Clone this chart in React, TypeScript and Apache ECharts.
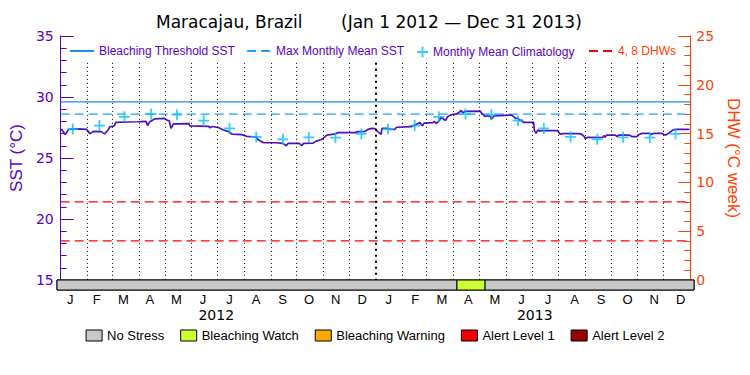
import React, { useEffect, useRef } from 'react';
import * as echarts from 'echarts';

const sstDates = [
  '2012-01-01','2012-01-02','2012-01-04','2012-01-06','2012-01-08','2012-01-10','2012-01-21','2012-01-31',
  '2012-02-04','2012-02-08','2012-02-17','2012-02-21','2012-02-25','2012-02-27',
  '2012-03-03','2012-03-05','2012-03-19','2012-03-30',
  '2012-04-09','2012-04-11','2012-04-13','2012-04-19','2012-04-30',
  '2012-05-04','2012-05-06','2012-05-08','2012-05-11','2012-05-29','2012-05-30',
  '2012-06-21','2012-06-22','2012-06-25',
  '2012-07-02','2012-07-08','2012-07-14','2012-07-18','2012-07-29',
  '2012-08-04','2012-08-15','2012-08-17','2012-08-21','2012-08-24',
  '2012-09-07','2012-09-15','2012-09-19','2012-09-21',
  '2012-10-04','2012-10-07','2012-10-09','2012-10-20','2012-10-23','2012-10-29',
  '2012-11-01','2012-11-05','2012-11-15','2012-11-18',
  '2012-12-08','2012-12-11','2012-12-19','2012-12-23','2012-12-27','2012-12-31',
  '2013-01-03','2013-01-07','2013-01-08','2013-01-15','2013-01-17','2013-01-23','2013-01-25',
  '2013-02-11','2013-02-13','2013-02-17','2013-02-21','2013-02-24','2013-02-26',
  '2013-03-08','2013-03-10','2013-03-12','2013-03-16','2013-03-17','2013-03-19','2013-03-23','2013-03-25','2013-03-30',
  '2013-04-04','2013-04-07','2013-04-10','2013-04-12','2013-04-14',
  '2013-05-02','2013-05-04','2013-05-08','2013-05-10','2013-05-14','2013-05-15','2013-05-18',
  '2013-06-07','2013-06-10','2013-06-12','2013-06-15','2013-06-17','2013-06-19','2013-06-21',
  '2013-07-03','2013-07-04','2013-07-06','2013-07-08','2013-07-10','2013-07-12','2013-07-31',
  '2013-08-03','2013-08-06','2013-08-25','2013-08-28','2013-08-31',
  '2013-09-01','2013-09-04','2013-09-21','2013-09-23','2013-09-24','2013-09-26',
  '2013-10-06','2013-10-08','2013-10-10','2013-10-22','2013-10-25','2013-10-31',
  '2013-11-02','2013-11-06','2013-11-14','2013-11-16','2013-11-20','2013-11-29',
  '2013-12-02','2013-12-04','2013-12-08','2013-12-12','2013-12-16','2013-12-31',
];
const sstValues = [
  27.30,27.35,27.15,26.92,27.10,27.35,27.38,27.35,
  27.00,27.18,27.16,26.98,27.30,27.55,
  27.62,27.92,27.95,27.97,
  28.00,27.65,27.95,28.20,28.25,
  28.08,28.05,27.43,27.80,27.82,27.63,
  27.60,27.48,27.58,
  27.50,27.30,27.16,26.95,26.92,
  26.78,26.72,26.52,26.34,26.25,
  26.25,26.20,26.00,26.20,
  26.20,26.02,26.20,26.22,26.36,26.50,
  26.62,26.88,26.97,27.08,
  27.08,27.16,27.18,27.35,27.43,27.40,
  27.16,26.94,27.43,27.43,27.35,27.35,27.52,
  27.57,27.65,27.76,27.90,27.64,27.86,
  27.90,28.00,27.82,28.10,28.33,28.25,28.08,28.38,28.56,
  28.60,28.70,28.90,28.68,28.82,
  28.85,28.64,28.40,28.47,28.40,28.17,28.45,
  28.52,28.39,28.25,28.25,28.06,28.11,27.92,
  27.93,27.25,27.02,27.30,27.20,27.24,27.24,
  26.95,27.00,27.00,26.94,26.75,
  26.58,26.70,26.68,26.83,26.70,26.88,
  26.88,26.76,26.88,26.88,26.76,26.76,
  26.90,27.02,27.02,26.94,27.02,27.02,
  26.90,26.90,27.08,27.30,27.35,27.35,
];

const climYears = [2012, 2013];
const climatology = [27.37, 27.66, 28.38, 28.60, 28.55, 28.06, 27.42, 26.73, 26.53, 26.70, 26.67, 26.97];
const maxMonthlyMean = 28.6;
const bleachingThreshold = 29.6;
const dhwLevels = [4, 8];

const monthLabels = ['J','F','M','A','M','J','J','A','S','O','N','D','J','F','M','A','M','J','J','A','S','O','N','D'];
const yearLabels = ['2012', '2013'];

const statusNames = ['No Stress', 'Bleaching Watch', 'Bleaching Warning', 'Alert Level 1', 'Alert Level 2'];
const statusColors = ['#c8c8c8', '#ccff33', '#ffaa00', '#ee0000', '#990000'];
const statusStart = ['2012-01-01', '2013-04-04', '2013-05-06'];
const statusEnd = ['2013-04-04', '2013-05-06', '2014-01-01'];
const statusLevel = [0, 1, 0];

const xStart = '2012-01-01';
const xEnd = '2014-01-01';

const PURPLE = '#5a00c8';
const LINE_PURPLE = '#5010c0';
const ORANGE = '#ff4000';
const TXT = 'Liberation Sans, Arial, sans-serif';
const NUM = 'DejaVu Sans, sans-serif';
const PLUS = 'path://M4.2,0H5.8V4.2H10V5.8H5.8V10H4.2V5.8H0V4.2H4.2Z';

function toTime(s: string): number {
  const [y, m, d] = s.split('-').map(Number);
  return new Date(y, m - 1, d).getTime();
}

export default function App() {
  const ref = useRef<HTMLDivElement>(null);
  useEffect(() => {
    if (!ref.current) return;
    const chart = echarts.init(ref.current, null, { renderer: 'svg' });
    const t0 = toTime(xStart);
    const t1 = toTime(xEnd);

    const sstData = sstDates.map((d, i) => [toTime(d), sstValues[i]]);
    const climData: number[][] = [];
    climYears.forEach((y) => {
      climatology.forEach((v, m) => {
        climData.push([new Date(y, m, 15).getTime(), v]);
      });
    });
    const monthLines: any[] = [];
    climYears.forEach((y) => {
      for (let m = 0; m < 12; m++) {
        if (y === 2012 && m === 0) continue;
        const t = new Date(y, m, 1).getTime();
        const bold = m === 0;
        monthLines.push([
          { coord: [t, 32.8], lineStyle: bold ? { width: 2, type: [2, 4], color: '#000' } : undefined },
          { coord: [t, 15] },
        ]);
      }
    });
    const statusData = statusStart.map((s, i) => [toTime(s), toTime(statusEnd[i]), statusLevel[i]]);

    const statusSeries = statusNames.map((n, lvl) => ({
      name: n, type: 'custom', xAxisIndex: 1, yAxisIndex: 2,
      data: statusData.filter((d) => d[2] === lvl),
      encode: { x: [0, 1], y: 2 },
      itemStyle: { color: statusColors[lvl] },
      renderItem: (params: any, api: any) => {
        const s = api.coord([api.value(0), 0]);
        const e = api.coord([api.value(1), 1]);
        return {
          type: 'rect',
          shape: { x: s[0], y: e[1], width: e[0] - s[0], height: s[1] - e[1] },
          style: { fill: statusColors[lvl], stroke: '#000', lineWidth: 1 },
        };
      },
      z: 3,
    }));

    const option: any = {
      animation: false,
      backgroundColor: '#fff',
      title: [
        {
          text: 'Maracajau, Brazil',
          left: 156, top: 13, padding: 0,
          textStyle: { fontFamily: NUM, fontSize: 17, fontWeight: 'normal', color: '#000' },
        },
        {
          text: '(Jan 1 2012 \u2014 Dec 31 2013)',
          left: 341, top: 13, padding: 0,
          textStyle: { fontFamily: NUM, fontSize: 17, fontWeight: 'normal', color: '#000' },
        },
      ],
      grid: [
        { left: 57, right: 56, top: 36, height: 244 },
        { left: 57, right: 56, top: 280, height: 10, show: true, borderColor: '#000', borderWidth: 1, backgroundColor: 'transparent' },
      ],
      legend: [
        {
          data: ['Bleaching Threshold SST', 'Max Monthly Mean SST'],
          left: 69, top: 45, padding: 0, itemWidth: 24, itemHeight: 14, itemGap: 11,
          selectedMode: false,
          itemStyle: { opacity: 0 },
          textStyle: { color: PURPLE, fontFamily: TXT, fontSize: 12 },
        },
        {
          data: ['Monthly Mean Climatology'],
          left: 417, top: 46, padding: 0, itemWidth: 11, itemHeight: 11, itemGap: 11,
          selectedMode: false,
          textStyle: { color: PURPLE, fontFamily: TXT, fontSize: 12 },
        },
        {
          data: [{ name: '4, 8 DHWs', textStyle: { color: ORANGE } }],
          left: 588, top: 45, padding: 0, itemWidth: 24, itemHeight: 14,
          selectedMode: false,
          itemStyle: { opacity: 0 },
          textStyle: { color: ORANGE, fontFamily: TXT, fontSize: 12 },
        },
        {
          data: statusNames,
          left: 'center', top: 329, padding: 0, itemWidth: 16, itemHeight: 11, itemGap: 16,
          icon: 'rect', selectedMode: false,
          itemStyle: { borderColor: '#000', borderWidth: 1 },
          textStyle: { color: '#000', fontFamily: TXT, fontSize: 13 },
        },
      ],
      xAxis: [
        {
          type: 'time', gridIndex: 0, position: 'top', min: t0, max: t1,
          axisLine: { show: true, lineStyle: { color: '#000', width: 1 } },
          axisTick: { show: false }, axisLabel: { show: false }, splitLine: { show: false },
        },
        {
          type: 'time', gridIndex: 1, position: 'top', min: t0, max: t1,
          axisLine: { show: false }, axisTick: { show: false }, axisLabel: { show: false }, splitLine: { show: false },
        },
        {
          type: 'category', gridIndex: 1, position: 'bottom', data: monthLabels, boundaryGap: true,
          axisLine: { show: false }, axisTick: { show: false },
          axisLabel: { interval: 0, margin: 3, color: '#000', fontFamily: TXT, fontSize: 13 },
        },
        {
          type: 'category', gridIndex: 1, position: 'bottom', data: yearLabels, boundaryGap: true,
          axisLine: { show: false }, axisTick: { show: false },
          axisLabel: { interval: 0, margin: 18, color: '#000', fontFamily: NUM, fontSize: 14 },
        },
      ],
      yAxis: [
        {
          type: 'value', gridIndex: 0, position: 'left', min: 15, max: 35, interval: 5,
          name: 'SST (\u00b0C)', nameLocation: 'middle', nameGap: 34, nameRotate: 90,
          nameTextStyle: { color: PURPLE, fontFamily: TXT, fontSize: 17 },
          axisLine: { show: true, lineStyle: { color: PURPLE, width: 1 } },
          axisTick: { show: true, inside: true, length: 13, lineStyle: { color: PURPLE } },
          minorTick: { show: true, splitNumber: 5, length: 6, lineStyle: { color: PURPLE } },
          axisLabel: { color: PURPLE, fontFamily: NUM, fontSize: 14, margin: 7 },
          splitLine: { show: false },
        },
        {
          type: 'value', gridIndex: 0, position: 'right', min: 0, max: 25, interval: 5,
          name: 'DHW (\u00b0C week)', nameLocation: 'middle', nameGap: 28, nameRotate: -90,
          nameTextStyle: { color: ORANGE, fontFamily: TXT, fontSize: 17 },
          axisLine: { show: true, lineStyle: { color: ORANGE, width: 1 } },
          axisTick: { show: true, inside: true, length: 12, lineStyle: { color: ORANGE } },
          minorTick: { show: true, splitNumber: 5, length: 6, lineStyle: { color: ORANGE } },
          axisLabel: { color: ORANGE, fontFamily: NUM, fontSize: 14, margin: 6 },
          splitLine: { show: false },
        },
        {
          type: 'value', gridIndex: 1, position: 'left', min: 0, max: 1,
          axisLine: { show: true, lineStyle: { color: PURPLE, width: 1 } },
          axisTick: { show: false }, axisLabel: { show: false }, splitLine: { show: false },
        },
      ],
      series: [
        {
          name: 'Bleaching Threshold SST', type: 'line', xAxisIndex: 0, yAxisIndex: 0,
          data: [[t0, bleachingThreshold], [t1, bleachingThreshold]],
          symbol: 'none', color: '#1e8cf0',
          lineStyle: { color: '#1e8cf0', width: 1.3 },
          z: 2,
          markLine: {
            silent: true, symbol: ['none', 'none'], label: { show: false },
            lineStyle: { color: '#000', width: 1, type: [1, 3] },
            data: monthLines,
          },
        },
        {
          name: 'Max Monthly Mean SST', type: 'line', xAxisIndex: 0, yAxisIndex: 0,
          data: [[t0, maxMonthlyMean], [t1, maxMonthlyMean]],
          symbol: 'none', color: '#1ea0ff',
          lineStyle: { color: '#1ea0ff', width: 1.3, type: [9, 5] },
          z: 2,
        },
        {
          name: '4, 8 DHWs', type: 'line', xAxisIndex: 0, yAxisIndex: 1,
          data: [[t0, dhwLevels[0]], [t1, dhwLevels[0]]],
          symbol: 'none', color: '#ff0000',
          lineStyle: { color: '#ff0000', width: 1.3, type: [9, 5] },
          z: 2,
        },
        {
          name: '4, 8 DHWs', type: 'line', xAxisIndex: 0, yAxisIndex: 1,
          data: [[t0, dhwLevels[1]], [t1, dhwLevels[1]]],
          symbol: 'none', color: '#ff0000',
          lineStyle: { color: '#ff0000', width: 1.3, type: [9, 5] },
          z: 2,
        },
        {
          name: 'SST', type: 'line', xAxisIndex: 0, yAxisIndex: 0,
          data: sstData, symbol: 'none', color: LINE_PURPLE,
          lineStyle: { color: LINE_PURPLE, width: 1.7 },
          z: 4,
        },
        {
          name: 'Monthly Mean Climatology', type: 'scatter', xAxisIndex: 0, yAxisIndex: 0,
          data: climData, symbol: PLUS, symbolSize: 11,
          itemStyle: { color: '#00bfff' },
          z: 5,
        },
        ...statusSeries,
      ],
    };
    chart.setOption(option);
    return () => chart.dispose();
  }, []);
  return <div ref={ref} style={{ position: 'fixed', left: 0, top: 0, width: 750, height: 375 }} />;
}
